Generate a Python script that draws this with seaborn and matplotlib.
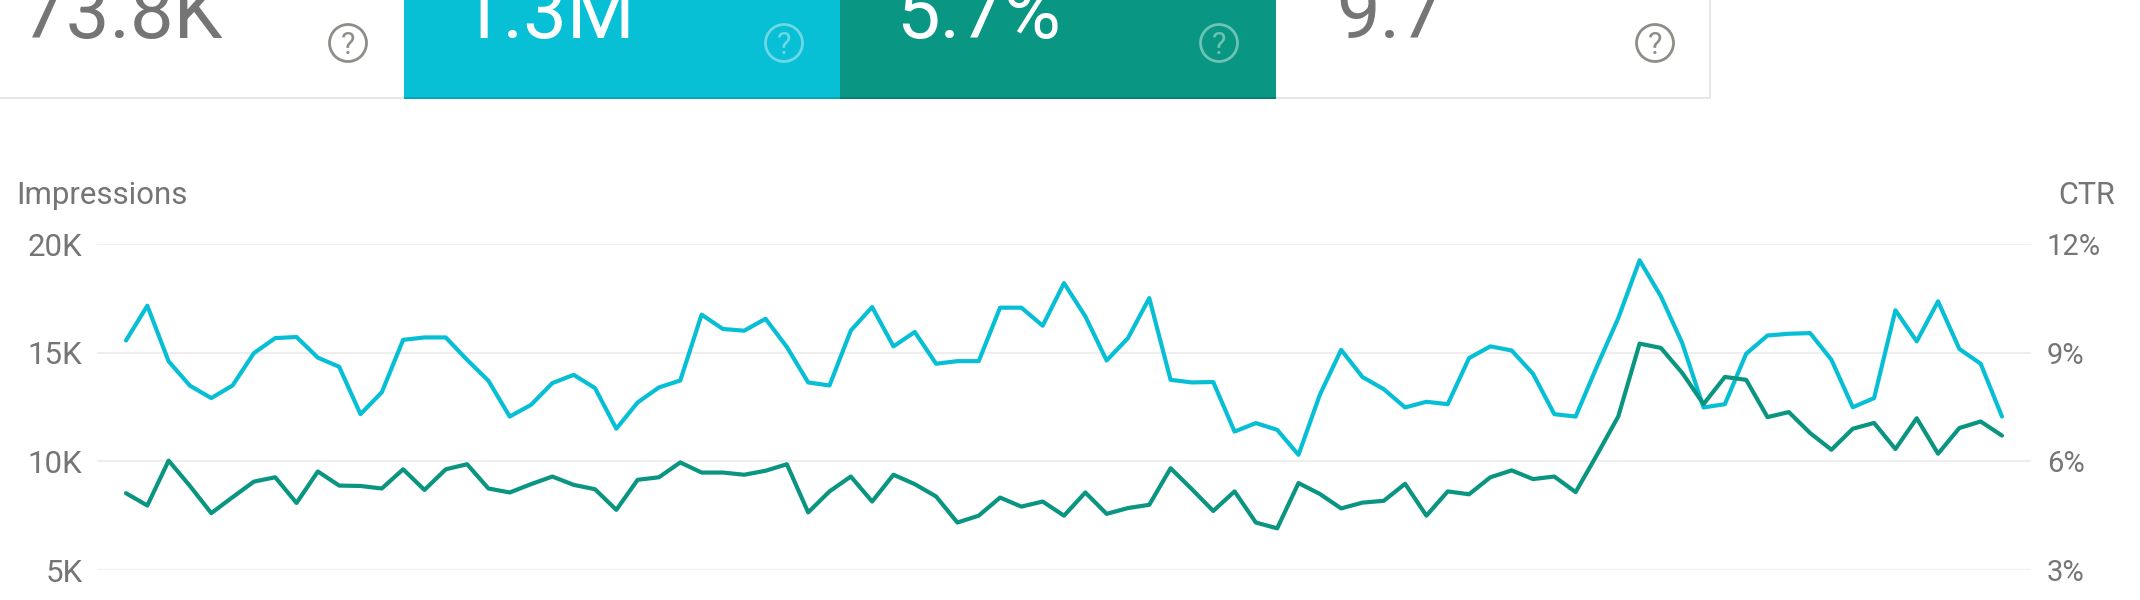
import matplotlib
matplotlib.use("Agg")
import matplotlib.pyplot as plt
from matplotlib.patches import Rectangle, Circle
import numpy as np
import pandas as pd
import seaborn as sns

impressions = [15560,17160,14600,13480,12910,13490,14980,15670,15720,14770,14350,12170,13180,15590,15700,15700,
14670,13710,12060,12600,13600,13980,13370,11500,12710,13400,13720,16750,16090,16010,16560,15260,13630,13490,
16020,17100,15290,15950,14490,14610,14610,17070,17070,16240,18200,16670,14640,15670,17510,13750,13630,13650,
11370,11760,11450,10300,13060,15130,13880,13320,12480,12740,12630,14750,15290,15100,14030,12170,12060,14370,
16590,19250,17590,15440,12480,12630,14950,15790,15870,15900,14670,12490,12910,16950,15520,17360,15170,14490,12060]
ctr = [5.12,4.78,6.02,5.32,4.57,5.01,5.44,5.56,4.85,5.72,5.33,5.32,5.25,5.78,5.21,5.78,5.92,5.25,5.14,5.37,5.58,
5.35,5.23,4.66,5.49,5.56,5.97,5.69,5.69,5.63,5.74,5.92,4.59,5.17,5.58,4.89,5.63,5.37,5.03,4.31,4.50,5.00,4.75,
4.89,4.50,5.14,4.55,4.71,4.80,5.81,5.23,4.63,5.17,4.31,4.15,5.40,5.10,4.70,4.86,4.91,5.38,4.50,5.17,5.09,5.56,
5.75,5.51,5.58,5.15,6.18,7.24,9.25,9.13,8.44,7.58,8.33,8.25,7.22,7.36,6.78,6.32,6.90,7.06,6.34,7.19,6.21,6.92,7.10,6.71]
day = list(range(len(impressions)))

imp_ticks = [5000, 10000, 15000, 20000]
imp_labels = ["5K", "10K", "15K", "20K"]
ctr_ticks = [3, 6, 9, 12]
ctr_labels = ["3%", "6%", "9%", "12%"]
tile_values = ["73.8K", "1.3M", "5.7%", "9.7"]
tile_colors = ["#ffffff", "#07c0d5", "#099682", "#ffffff"]
tile_text = ["#757575", "#ffffff", "#ffffff", "#757575"]
icon_colors = ["#8f8d88", "#6cd8e6", "#6cc3b6", "#8f8d88"]
tile_left = [-2, 404, 840, 1276]
tile_right = [404, 840, 1276, 1711]
text_x = [22, 460, 896, 1336]
icon_x = [348, 784, 1219, 1655]

CYAN = "#07bfd5"
GREEN = "#0a9580"
GREY = "#757575"

sns.set_theme(style="white")
plt.rcParams["font.family"] = ["Roboto", "DejaVu Sans"]

W, H = 2140, 600
fig = plt.figure(figsize=(W / 100, H / 100), dpi=100, facecolor="white")

# pixel-space layer for the summary tiles
bg = fig.add_axes([0, 0, 1, 1])
bg.set_xlim(0, W)
bg.set_ylim(H, 0)
bg.axis("off")
for val, fc, tc, ic, l, r, tx, ix in zip(tile_values, tile_colors, tile_text, icon_colors,
                                         tile_left, tile_right, text_x, icon_x):
    bg.add_patch(Rectangle((l, -5), r - l, 102, fc=fc, ec="none"))
    line = "#e6e6e6" if fc == "#ffffff" else ("#06a5b8" if fc == "#07c0d5" else "#07806f")
    bg.add_patch(Rectangle((l, 96.5), r - l, 2.5, fc=line, ec="none"))
    bg.text(tx, 38, val, fontsize=56, color=tc, fontweight="normal", va="baseline", ha="left")
    bg.add_patch(Circle((ix, 43), 18.5, fc="none", ec=ic, lw=2.0))
    bg.text(ix, 54, "?", fontsize=22, color=ic, va="baseline", ha="center", fontweight="normal")
bg.add_patch(Rectangle((1709, -5), 2, 104, fc="#e6e6e6", ec="none"))
bg.text(16, 195, "Impressions", fontsize=22.5, color=GREY, va="center", ha="left")
bg.text(2115, 195, "CTR", fontsize=22, color=GREY, va="center", ha="right")

# chart: plot area spans x 97..2031, y 244..570 px
ax = fig.add_axes([97 / W, 1 - 570 / H, (2031 - 97) / W, (570 - 244) / H])
ax.patch.set_visible(False)
df = pd.DataFrame({"day": day, "impressions": impressions, "ctr": ctr})
sns.lineplot(data=df, x="day", y="impressions", ax=ax, color=CYAN, lw=3.0, zorder=3)
ax.set_xlim(-1.36, 89.36)
ax.set_ylim(5000, 20000)
ax.set_yticks(imp_ticks, imp_labels)
ax.set_xticks([])
ax.set_xlabel("")
ax.set_ylabel("")
ax.grid(axis="y", color="#eeeeee", lw=1.5)
ax.set_axisbelow(True)
ax.tick_params(axis="y", length=0, pad=10.5, labelsize=22.5, labelcolor=GREY)
for s in ax.spines.values():
    s.set_visible(False)

ax2 = ax.twinx()
ax2.patch.set_visible(False)
sns.lineplot(data=df, x="day", y="ctr", ax=ax2, color=GREEN, lw=3.0, zorder=3)
ax2.set_xlim(-1.36, 89.36)
ax2.set_ylim(3, 12)
ax2.set_yticks(ctr_ticks, ctr_labels)
ax2.set_xticks([])
ax2.set_xlabel("")
ax2.set_ylabel("")
ax2.grid(False)
ax2.tick_params(axis="y", length=0, pad=11.5, labelsize=21, labelcolor=GREY)
for s in ax2.spines.values():
    s.set_visible(False)
for t in ax.get_yticklabels() + ax2.get_yticklabels():
    t.set_clip_on(False)

fig.savefig("out.png", dpi=100, facecolor="white")
